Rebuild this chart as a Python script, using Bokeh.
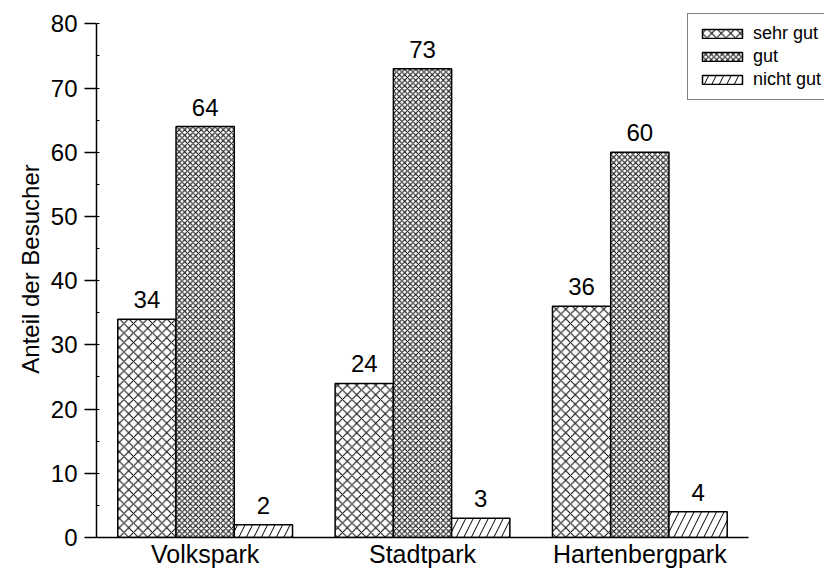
from bokeh.plotting import figure
from bokeh.models import (ColumnDataSource, Range1d, SingleIntervalTicker, FixedTicker,
                          Legend, LegendItem, LabelSet)
from bokeh.transform import dodge
from bokeh.core.properties import value
from bokeh.embed import file_html
from bokeh.resources import INLINE

parks = ["Volkspark", "Stadtpark", "Hartenbergpark"]
sehr_gut = [34, 24, 36]
gut = [64, 73, 60]
nicht_gut = [2, 3, 4]
series_names = ["sehr gut", "gut", "nicht gut"]
y_label = "Anteil der Besucher"

FONT = "Liberation Sans"

xpos = [i + 0.5 for i in range(len(parks))]
src = ColumnDataSource(data=dict(
    xpos=xpos, park=parks,
    sehr_gut=sehr_gut, gut=gut, nicht_gut=nicht_gut,
    sehr_gut_t=[str(v) for v in sehr_gut],
    gut_t=[str(v) for v in gut],
    nicht_gut_t=[str(v) for v in nicht_gut],
))

W, H = 824, 571
p = figure(width=W, height=H, output_backend="svg", toolbar_location=None,
           x_range=Range1d(0, 3.3497), y_range=Range1d(0, 83.63),
           min_border_left=96, min_border_right=0, min_border_top=0, min_border_bottom=34)
p.outline_line_color = None
p.xgrid.grid_line_color = None
p.ygrid.grid_line_color = None
p.background_fill_color = "white"
p.border_fill_color = "white"

bw = 0.268
cols = ["sehr_gut", "gut", "nicht_gut"]
offsets = [-bw, 0, bw]
hatches = [("x", 9.5), ("x", 5.5), ("/", 15)]
renderers = []
for c, off, (hp, hs) in zip(cols, offsets, hatches):
    r = p.vbar(x=dodge("xpos", off), top=c, bottom=0, width=bw, source=src,
               fill_color="white", line_color="black", line_width=1.5,
               hatch_pattern=hp, hatch_scale=hs, hatch_color="black", hatch_weight=1)
    renderers.append(r)
    labels = LabelSet(x=dodge("xpos", off), y=c, text=c + "_t", source=src,
                      text_align="center", text_baseline="alphabetic", y_offset=11,
                      text_font=value(FONT), text_font_size=value("24px"),
                      text_color=value("black"))
    p.add_layout(labels)

# axes
p.xaxis.ticker = FixedTicker(ticks=xpos)
p.xaxis.major_label_overrides = {x: name for x, name in zip(xpos, parks)}
p.xaxis.bounds = (0, 3)
p.yaxis.ticker = SingleIntervalTicker(interval=10, num_minor_ticks=2)
p.yaxis.bounds = (0, 80)
p.yaxis.axis_label = y_label
for ax in (p.xaxis[0], p.yaxis[0]):
    ax.axis_line_width = 1.5
    ax.axis_line_color = "black"
    ax.major_label_text_font = FONT
    ax.major_label_text_color = "black"
    ax.major_tick_line_color = "black"
    ax.major_tick_line_width = 1.5
    ax.minor_tick_line_color = "black"
p.yaxis.major_label_text_font_size = "24px"
p.xaxis.major_label_text_font_size = "25px"

p.yaxis.major_tick_out = 12
p.yaxis.major_tick_in = 0
p.yaxis.minor_tick_in = 3
p.yaxis.minor_tick_out = 0
p.yaxis.major_label_standoff = 7
p.yaxis.axis_label_text_font = FONT
p.yaxis.axis_label_text_font_size = "24px"
p.yaxis.axis_label_text_font_style = "normal"
p.yaxis.axis_label_text_color = "black"
p.yaxis.axis_label_standoff = 4

p.xaxis.major_tick_out = 0
p.xaxis.major_tick_in = 0
p.xaxis.minor_tick_out = 0
p.xaxis.minor_tick_in = 0
p.xaxis.major_label_standoff = 2

legend = Legend(items=[LegendItem(label=n, renderers=[r]) for n, r in zip(series_names, renderers)],
                location=(591, 437), orientation="vertical",
                label_text_font=FONT, label_text_font_size="18px", label_text_color="black",
                glyph_width=50, glyph_height=11, label_height=20, label_standoff=6,
                spacing=2, padding=9, margin=0,
                border_line_color="black", border_line_width=1.5,
                background_fill_color="white", background_fill_alpha=1)
p.add_layout(legend, "center")

open("out.html", "w").write(file_html(p, INLINE))
